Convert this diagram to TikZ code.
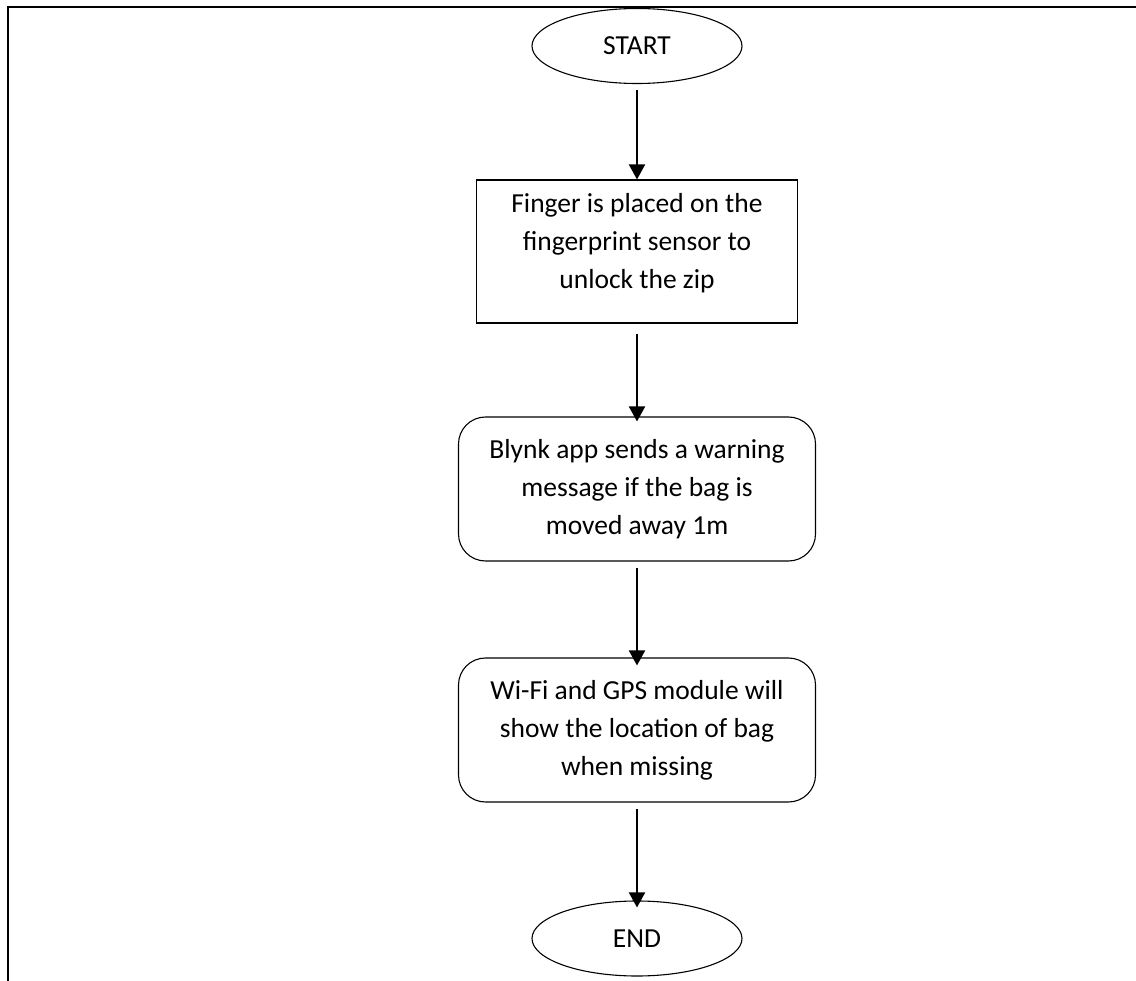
\documentclass[tikz,border=0pt]{standalone}
\usepackage{fontspec}
\setmainfont{Carlito}
\usetikzlibrary{shapes.geometric,arrows.meta}
\tikzset{
  frameline/.style={line width=1.8pt, draw=black},
  terminal/.style={ellipse, draw=black, line width=1.1pt, minimum width=210pt, minimum height=75pt, inner sep=0pt},
  procbox/.style={rectangle, draw=black, line width=1.1pt, minimum width=321pt, minimum height=143pt, inner sep=0pt},
  roundbox/.style={rectangle, rounded corners=27pt, draw=black, line width=1.1pt, minimum width=357pt, minimum height=144pt, inner sep=0pt},
  boxtext/.style={align=center, inner sep=0pt},
  flow/.style={line width=2pt, -{Triangle[width=16pt,length=15pt]}}
}
\begin{document}
\begin{tikzpicture}[x=1pt, y=-1pt, font=\fontsize{27.5}{38}\selectfont]
  \useasboundingbox (0,0) rectangle (1136,981);
  % page frame: top and left edges only
  \coordinate (ftl) at (8,7);
  \coordinate (ftr) at (1136,7);
  \coordinate (fbl) at (8,981);
  \draw[frameline] (ftr) -- (ftl) -- (fbl);

  % flow chart nodes
  \node[terminal] (start) at (637,46) {START};
  \node[procbox] (finger) at (637,251.5) {};
  \node[boxtext] (fingertxt) at (637,243) {Finger is placed on the\\fingerprint sensor to\\unlock the zip};
  \node[roundbox, align=center] (blynk) at (637,489) {Blynk app sends a warning\\message if the bag is\\moved away 1m};
  \node[roundbox, align=center] (wifi) at (637,730) {Wi-Fi and GPS module will\\show the location of bag\\when missing};
  \node[terminal] (end) at (637,938.5) {END};

  % connectors
  \draw[flow] ([yshift=-6pt]start.south) -- (finger.north);
  \draw[flow] ([yshift=-10pt]finger.south) -- ([yshift=-5pt]blynk.north);
  \draw[flow] ([yshift=-6pt]blynk.south) -- ([yshift=-8pt]wifi.north);
  \draw[flow] ([yshift=-6pt]wifi.south) -- ([yshift=-7pt]end.north);
\end{tikzpicture}
\end{document}
